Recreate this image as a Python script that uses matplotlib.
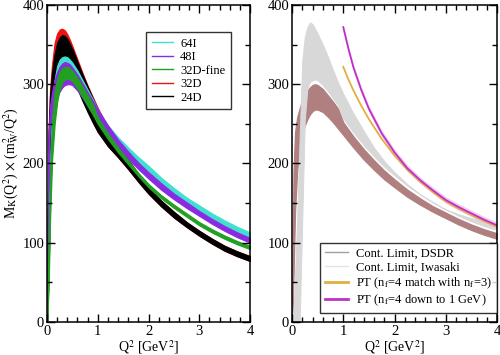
import matplotlib
matplotlib.use("Agg")
import matplotlib.pyplot as plt
from matplotlib.ticker import MultipleLocator

plt.rcParams['font.family'] = ['Liberation Serif', 'DejaVu Serif']
plt.rcParams['mathtext.fontset'] = 'stix'

# Q^2 grid the bands are read at
q2 = [0, 0.03, 0.06, 0.1, 0.15, 0.2, 0.25, 0.3, 0.35, 0.4, 0.45, 0.5, 0.6, 0.7, 0.8, 0.9,
      1.0, 1.2, 1.4, 1.6, 1.8, 2.0, 2.25, 2.5, 2.75, 3.0, 3.25, 3.5, 3.75, 4.0]

# left panel: lattice ensembles (upper / lower edge of each band)
ens_labels = ['64I', '48I', '32D-fine', '32D', '24D']
ens_colors = ['#40e0d0', '#8a2be2', '#22a022', '#ee1111', '#000000']

up_64I = [0, 120, 200, 265, 305, 323, 331, 334, 335, 334, 331, 327, 317, 305, 293, 281,
          268, 248, 233, 220, 208, 197, 182, 169, 157, 147, 137, 128, 120, 113]
lo_64I = [0, 80, 160, 230, 275, 296, 306, 310, 312, 312, 310, 307, 298, 287, 276, 265,
          254, 237, 224, 212, 201, 191, 176, 163, 151, 141, 131, 122, 114, 107]
up_48I = [0, 235, 272, 290, 305, 315, 322, 326, 328, 327, 325, 321, 312, 301, 290, 279,
          268, 248, 230, 215, 201, 189, 175, 162, 151, 140, 130, 121, 113, 106]
lo_48I = [0, 200, 250, 265, 275, 285, 291, 296, 299, 300, 300, 299, 292, 283, 273, 263,
          253, 235, 219, 206, 193, 181, 167, 155, 144, 134, 124, 115, 107, 100]
up_32Df = [0, 100, 190, 255, 290, 306, 316, 320, 322, 322, 320, 317, 308, 297, 286, 275,
           258, 238, 220, 204, 188, 174, 160, 148, 137, 126, 117, 109, 102, 96]
lo_32Df = [0, 40, 130, 205, 250, 278, 294, 302, 306, 307, 306, 304, 295, 284, 273, 262,
           250, 231, 214, 199, 184, 170, 156, 144, 133, 122, 113, 105, 98, 92]
up_32D = [0, 240, 292, 325, 352, 364, 369, 370, 368, 363, 356, 348, 331, 314, 298, 284,
          270, 246, 224, 205, 186, 169, 153, 139, 126, 115, 105, 96, 89, 83]
lo_32D = [0, 70, 160, 240, 290, 315, 326, 330, 329, 326, 320, 313, 298, 283, 268, 253,
          240, 222, 208, 193, 177, 162, 146, 132, 120, 109, 99, 90, 83, 77]
up_24D = [0, 230, 285, 315, 338, 352, 359, 362, 361, 357, 351, 344, 328, 312, 297, 282,
          268, 245, 224, 205, 186, 169, 153, 139, 126, 115, 105, 96, 89, 83]
lo_24D = [0, 60, 150, 230, 285, 310, 320, 324, 324, 321, 315, 309, 294, 279, 265, 252,
          240, 222, 208, 193, 177, 162, 146, 132, 120, 109, 99, 90, 83, 77]

# right panel: continuum limits
up_dsdr = [0, 190, 240, 258, 270, 280, 287, 292, 296, 299, 300, 299, 294, 286, 278, 269,
           252, 234, 218, 204, 191, 180, 167, 156, 146, 138, 130, 123, 117, 112]
lo_dsdr = [0, 60, 140, 190, 220, 237, 248, 256, 262, 266, 268, 268, 265, 259, 252, 244,
           236, 220, 205, 192, 180, 170, 158, 148, 139, 131, 123, 116, 110, 105]
up_iwa = [0, 15, 60, 130, 235, 330, 360, 372, 378, 376, 370, 364, 350, 335, 318, 302,
          288, 263, 241, 220, 203, 189, 174, 161, 151, 142, 136, 131, 128, 126]
lo_iwa = [0, 0, 0, 0, 0, 130, 255, 295, 303, 305, 306, 305, 299, 291, 282, 273,
          257, 239, 223, 209, 196, 185, 172, 161, 151, 142, 134, 127, 121, 116]

# perturbative curves
q2_pt = [1.0, 1.1, 1.2, 1.35, 1.5, 1.75, 2.0, 2.25, 2.5, 2.75, 3.0, 3.25, 3.5, 3.75, 4.0]
pt_down = [372, 345, 321, 293, 269, 238, 214, 194, 179, 166, 154, 145, 137, 129, 122]
pt_match = [322, 306, 292, 273, 256, 231, 210, 192, 177, 164, 152, 143, 135, 127, 120]

fig = plt.figure(figsize=(5.0, 3.55), dpi=100)
ax1 = fig.add_axes([0.094, 0.093, 0.406, 0.893])
ax2 = fig.add_axes([0.584, 0.093, 0.410, 0.893])

bands = {'64I': (up_64I, lo_64I), '48I': (up_48I, lo_48I), '32D-fine': (up_32Df, lo_32Df),
         '32D': (up_32D, lo_32D), '24D': (up_24D, lo_24D)}
col = dict(zip(ens_labels, ens_colors))
for name in ['32D', '24D', '64I', '48I', '32D-fine']:
    up, lo = bands[name]
    ax1.fill_between(q2, lo, up, color=col[name], lw=0.9, ec=col[name])
for name in ens_labels:
    ax1.plot([], [], color=col[name], lw=1, label=name)

leg1 = ax1.legend(loc='upper right', bbox_to_anchor=(0.906, 0.915), fontsize=9,
                  frameon=True, fancybox=False, edgecolor='black', handlelength=1.7,
                  handletextpad=0.55, borderpad=0.45, labelspacing=0.12, borderaxespad=0)
leg1.get_frame().set_linewidth(1.0)

# right panel
ax2.fill_between(q2, lo_dsdr, up_dsdr, color='#b08080', lw=0.9, ec='#b08080')
ax2.fill_between(q2, lo_iwa, up_iwa, color='#d8d8d8', lw=0.7, ec='#d8d8d8')
ax2.fill_between(q2_pt, [v - 4 for v in pt_down], [v + 4 for v in pt_down],
                 color='#f2c8f2', lw=0)
ax2.plot(q2_pt, pt_match, color='#e0b040', lw=1.3)
ax2.plot(q2_pt, pt_down, color='#c030c8', lw=1.3)

ax2.plot([], [], color='#a0a0a0', lw=1, label='Cont. Limit, DSDR')
ax2.plot([], [], color='#e4e4e4', lw=1, label='Cont. Limit, Iwasaki')
ax2.plot([], [], color='#e0b040', lw=2, label=r'PT (n$_{\rm f}$=4 match with n$_{\rm f}$=3)')
ax2.plot([], [], color='#c030c8', lw=2, label=r'PT (n$_{\rm f}$=4 down to 1 GeV)')
leg2 = ax2.legend(loc='lower right', bbox_to_anchor=(1.0, 0.028), fontsize=9,
                  frameon=True, fancybox=False, edgecolor='black', handlelength=1.9,
                  handletextpad=0.6, borderpad=0.4, labelspacing=0.15, borderaxespad=0)
leg2.get_frame().set_linewidth(1.0)

for ax in (ax1, ax2):
    ax.set_xlim(0, 4)
    ax.set_ylim(0, 400)
    ax.xaxis.set_major_locator(MultipleLocator(1))
    ax.xaxis.set_minor_locator(MultipleLocator(0.2))
    ax.yaxis.set_major_locator(MultipleLocator(100))
    ax.yaxis.set_minor_locator(MultipleLocator(50))
    ax.tick_params(which='both', direction='in', top=True, right=True, labelsize=10.5,
                   width=1.0, pad=2)
    ax.tick_params(which='major', length=6)
    ax.tick_params(which='minor', length=3.5)
    for s in ax.spines.values():
        s.set_linewidth(1.1)
    ax.set_xlabel(r'Q$^2$ [GeV$^2$]', fontsize=10, labelpad=0)

ax1.set_ylabel(r'M$_{\rm K}$(Q$^2$) $\times$ (m$_{\rm W}^2$/Q$^2$)', fontsize=10, labelpad=1)

fig.savefig('out.png', dpi=100)
